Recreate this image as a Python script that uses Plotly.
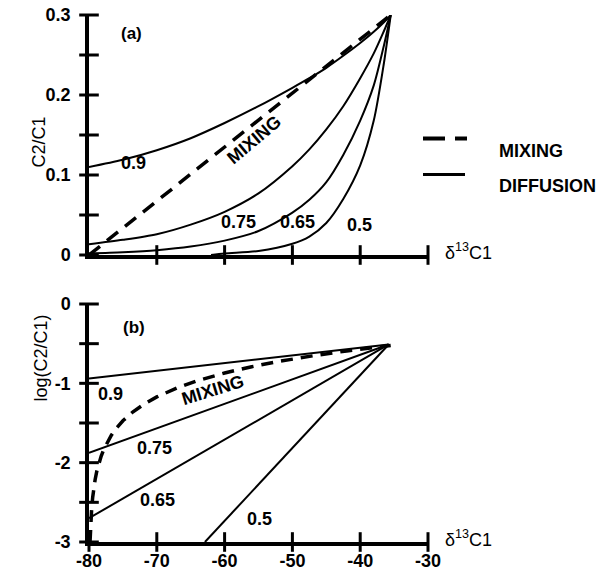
import numpy as np
import plotly.graph_objects as go

# ---- panel (a): C2/C1 against delta13C1 ----
diff_x = [-80, -75, -70, -65, -60, -55, -50, -47.5, -45, -42.5, -40, -38, -36.5, -35.5]
diff_09 = [0.110, 0.119, 0.131, 0.146, 0.165, 0.186, 0.209, 0.221, 0.234, 0.249, 0.265, 0.279, 0.291, 0.300]
diff_075 = [0.0135, 0.019, 0.026, 0.038, 0.054, 0.077, 0.111, 0.132, 0.157, 0.186, 0.221, 0.252, 0.280, 0.300]
diff_065 = [0.002, 0.0035, 0.006, 0.0105, 0.018, 0.030, 0.053, 0.069, 0.091, 0.125, 0.168, 0.212, 0.262, 0.300]
diff_05_x = [-62, -60, -55, -50, -47.5, -45, -42.5, -40, -38, -36.5, -35.5]
diff_05 = [0.0, 0.002, 0.005, 0.014, 0.023, 0.040, 0.070, 0.112, 0.168, 0.240, 0.300]

# mixing line between the two end members
mix_x = [-80, -79.85, -79.75, -79.6, -79.45, -79.3, -79.1, -78.85, -78.55, -78.2, -77.8,
         -77.3, -76.7, -76.0, -75.0, -73.5, -72, -70, -67, -64, -60, -56, -52, -47, -42, -35.5]
mix_c = [0.0, 0.0010, 0.0017, 0.0027, 0.0037, 0.0047, 0.0061, 0.0078, 0.0098, 0.0121, 0.0148,
         0.0182, 0.0222, 0.0270, 0.0337, 0.0438, 0.0539, 0.0674, 0.0876, 0.108, 0.135, 0.162,
         0.189, 0.222, 0.256, 0.300]

# ---- panel (b): log(C2/C1) diffusion lines (start point -> common end point) ----
diff_labels = ["0.9", "0.75", "0.65", "0.5"]
log_start_x = [-80, -80, -80, -62.9]
log_start_y = [-0.938, -1.877, -2.70, -3.0]
log_end_x = -35.8
log_end_y = -0.51

# axis ticks
top_yticks = [0, 0.1, 0.2, 0.3]
top_ylabels = ["0", "0.1", "0.2", "0.3"]
top_yminor = [0.05, 0.15, 0.25]
bot_yticks = [0, -1, -2, -3]
bot_ylabels = ["0", "-1", "-2", "-3"]
bot_yminor = [-0.5, -1.5, -2.5]
xticks = [-80, -70, -60, -50, -40, -30]
xlabels = ["-80", "-70", "-60", "-50", "-40", "-30"]

FONT = "Arial, Liberation Sans, sans-serif"
BLACK = "black"

fig = go.Figure()

top_curves = [(diff_x, diff_09), (diff_x, diff_075), (diff_x, diff_065), (diff_05_x, diff_05)]
for xs, ys in top_curves:
    fig.add_trace(go.Scatter(x=xs, y=ys, mode="lines", xaxis="x", yaxis="y",
                             line=dict(color=BLACK, width=2, shape="spline", smoothing=0.8),
                             hoverinfo="skip"))
fig.add_trace(go.Scatter(x=mix_x, y=mix_c, mode="lines", xaxis="x", yaxis="y",
                         line=dict(color=BLACK, width=3.5, dash="14px,9px"),
                         hoverinfo="skip"))

for sx, sy in zip(log_start_x, log_start_y):
    fig.add_trace(go.Scatter(x=[sx, log_end_x], y=[sy, log_end_y], mode="lines",
                             xaxis="x2", yaxis="y2",
                             line=dict(color=BLACK, width=2), hoverinfo="skip"))

mix_arr = np.array(mix_c)
pos = mix_arr > 0
fig.add_trace(go.Scatter(x=np.array(mix_x)[pos], y=np.log10(mix_arr[pos]), mode="lines",
                         xaxis="x2", yaxis="y2",
                         line=dict(color=BLACK, width=3.5, dash="12px,8px"),
                         hoverinfo="skip"))

# tick marks that cross the axis lines, drawn as line markers at the tick values
def tick_marks(xs, ys, xa, ya, symbol):
    fig.add_trace(go.Scatter(x=xs, y=ys, mode="markers", xaxis=xa, yaxis=ya,
                             cliponaxis=False, hoverinfo="skip",
                             marker=dict(symbol=symbol, size=14, color=BLACK,
                                         line=dict(color=BLACK, width=3))))

tick_marks([-80] * 7, top_yticks + top_yminor, "x", "y", "line-ew")
tick_marks(xticks[1:], [0] * 5, "x", "y", "line-ns")
tick_marks([-80] * 7, bot_yticks + bot_yminor, "x2", "y2", "line-ew")
tick_marks(xticks, [-3] * 6, "x2", "y2", "line-ns")

tickfont = dict(family=FONT, size=18, color=BLACK, weight="bold")
base = dict(showline=True, linecolor=BLACK, linewidth=3.5, showgrid=False, ticks="",
            zeroline=False, tickfont=tickfont, automargin=False)

H_PLOT = 527.0
top_lo = (542 - 255) / H_PLOT
bot_hi = (542 - 304) / H_PLOT

fig.update_layout(
    width=599, height=575,
    margin=dict(l=89, r=171, t=15, b=33, autoexpand=False),
    plot_bgcolor="white", paper_bgcolor="white",
    showlegend=False,
    xaxis=dict(domain=[0, 1], range=[-80, -30], anchor="y", tickvals=xticks,
               showticklabels=False, **base),
    yaxis=dict(domain=[top_lo, 1], range=[0, 0.3], anchor="x", tickvals=top_yticks,
               ticktext=top_ylabels, ticklabelstandoff=11, **base),
    xaxis2=dict(domain=[0, 1], range=[-80, -30], anchor="y2", tickvals=xticks,
                ticktext=xlabels, **base),
    yaxis2=dict(domain=[0, bot_hi], range=[-3, 0], anchor="x2", tickvals=bot_yticks,
                ticktext=bot_ylabels, ticklabelstandoff=11, **base),
)

# legend samples
def px_x(px):
    return (px - 89) / 339.0

def px_y(py):
    return (542 - py) / H_PLOT

shapes = [
    dict(type="line", xref="paper", yref="paper", x0=px_x(423), x1=px_x(467),
         y0=px_y(138.5), y1=px_y(138.5), line=dict(color=BLACK, width=4, dash="22px,10px")),
    dict(type="line", xref="paper", yref="paper", x0=px_x(423), x1=px_x(465),
         y0=px_y(174.5), y1=px_y(174.5), line=dict(color=BLACK, width=3)),
]
fig.update_layout(shapes=shapes)

bold = dict(family=FONT, size=18, color=BLACK, weight="bold")
plain = dict(family=FONT, size=18, color=BLACK)

ann = []
# panel tags
ann.append(dict(x=-73.8, y=0.2775, xref="x", yref="y", text="(a)", showarrow=False,
                font=dict(family=FONT, size=17, color=BLACK, weight="bold")))
ann.append(dict(x=-73.4, y=-0.30, xref="x2", yref="y2", text="(b)", showarrow=False,
                font=dict(family=FONT, size=17, color=BLACK, weight="bold")))

# curve labels, panel (a)
top_label_pos = [(-73.4, 0.115), (-58.0, 0.041), (-49.3, 0.041), (-40.1, 0.0375)]
for lab, (lx, ly) in zip(diff_labels, top_label_pos):
    ann.append(dict(x=lx, y=ly, xref="x", yref="y", text=lab, showarrow=False, font=bold))
ann.append(dict(x=-55.7, y=0.144, xref="x", yref="y", text="MIXING", showarrow=False,
                textangle=-40, font=bold))

# curve labels, panel (b)
bot_label_pos = [(-76.8, -1.13), (-70.4, -1.82), (-69.9, -2.47), (-54.9, -2.71)]
for lab, (lx, ly) in zip(diff_labels, bot_label_pos):
    ann.append(dict(x=lx, y=ly, xref="x2", yref="y2", text=lab, showarrow=False, font=bold))
ann.append(dict(x=-61.7, y=-1.09, xref="x2", yref="y2", text="MIXING", showarrow=False,
                textangle=-17, font=bold))

# axis titles
ann.append(dict(x=px_x(443), y=0, xref="paper", yref="y", xanchor="left", yanchor="middle",
                yshift=4, text="δ<sup>13</sup>C1", showarrow=False, font=plain))
ann.append(dict(x=px_x(443), y=-3, xref="paper", yref="y2", xanchor="left", yanchor="middle",
                yshift=4, text="δ<sup>13</sup>C1", showarrow=False, font=plain))
ann.append(dict(x=px_x(27), y=px_y(115), xref="paper", yref="paper", text="C2/C1",
                textangle=-90, showarrow=False, font=plain))
ann.append(dict(x=px_x(28), y=px_y(404), xref="paper", yref="paper", text="log(C2/C1)",
                textangle=-90, showarrow=False, font=plain))

# legend text
ann.append(dict(x=px_x(497), y=px_y(138.5), xref="paper", yref="paper", xanchor="left",
                text="MIXING", showarrow=False, font=bold))
ann.append(dict(x=px_x(497), y=px_y(174.5), xref="paper", yref="paper", xanchor="left",
                text="DIFFUSION", showarrow=False, font=bold))

fig.update_layout(annotations=ann)

fig.write_html("out.html")
